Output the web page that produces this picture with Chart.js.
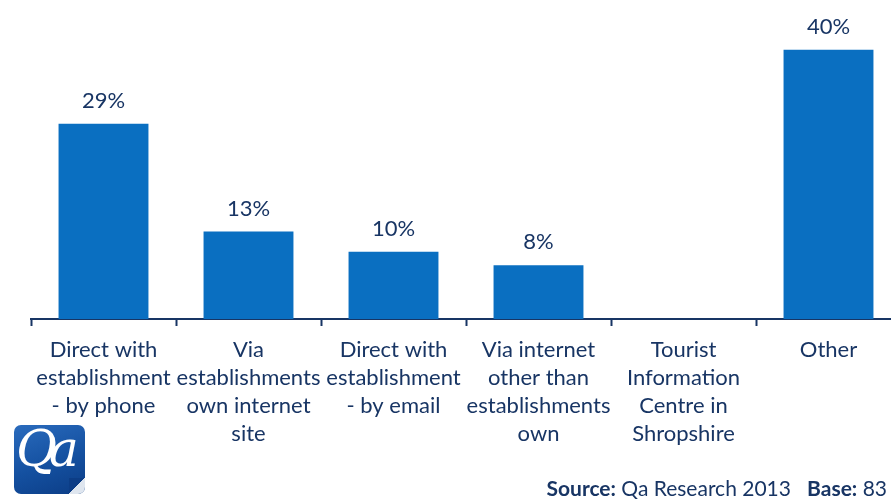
<!DOCTYPE html>
<html>
<head>
<meta charset="utf-8">
<script src="https://cdn.jsdelivr.net/npm/chart.js@4/dist/chart.umd.min.js"></script>
<style>
  html, body { margin: 0; padding: 0; background: #fff; overflow: hidden; }
  #wrap { position: relative; width: 891px; height: 499px; overflow: hidden; }
  #chart { position: absolute; left: 0; top: 0; }
  .logo {
    position: absolute; left: 14px; top: 425px; width: 71px; height: 69px;
    border-radius: 7px; overflow: hidden;
    background: linear-gradient(160deg, #2a6bbd 0%, #1450a0 55%, #0c3d86 100%);
  }
  .logo span {
    position: absolute; left: 2px; top: -5px;
    font-family: "DejaVu Serif", "Liberation Serif", serif; font-style: italic;
    font-size: 50px; color: #fff; letter-spacing: -8px;
  }
  .logo .curl {
    position: absolute; right: 0; bottom: 0; width: 16px; height: 16px;
    background: linear-gradient(135deg, #0c3d86 50%, #dfe6ef 50%);
  }
  .source {
    position: absolute; right: 4px; top: 475px;
    font-family: Lato, "Open Sans", sans-serif; font-size: 21px; color: #183564;
    white-space: nowrap;
  }
  .source b { font-weight: 700; }
</style>
</head>
<body>
<div id="wrap">
  <canvas id="chart" width="901" height="499"></canvas>
  <div class="logo"><span>Qa</span><div class="curl"></div></div>
  <div class="source"><b>Source:</b> Qa Research 2013&nbsp;&nbsp;&nbsp;<b>Base:</b> 83</div>
</div>
<script>
// booking channels (% of respondents)
const categories = [
  ["Direct with", "establishment", "- by phone"],
  ["Via", "establishments", "own internet", "site"],
  ["Direct with", "establishment", "- by email"],
  ["Via internet", "other than", "establishments", "own"],
  ["Tourist", "Information", "Centre in", "Shropshire"],
  ["Other"]
];
const values = [29, 13, 10, 8, 0, 40];

const navy = "#183564";
const barBlue = "#0a6fc1";

// value labels above each bar
const barLabels = {
  id: "barLabels",
  afterDatasetsDraw(chart) {
    const ctx = chart.ctx;
    const meta = chart.getDatasetMeta(0);
    ctx.save();
    ctx.font = "22px Lato, 'Open Sans', sans-serif";
    ctx.fillStyle = navy;
    ctx.textAlign = "center";
    ctx.textBaseline = "middle";
    meta.data.forEach((bar, i) => {
      if (!values[i]) return;
      ctx.fillText(values[i] + "%", bar.x, bar.y - 23);
    });
    ctx.restore();
  }
};

new Chart(document.getElementById("chart").getContext("2d"), {
  type: "bar",
  data: {
    labels: categories,
    datasets: [{
      data: values,
      backgroundColor: barBlue,
      borderWidth: 0,
      categoryPercentage: 1,
      barPercentage: 0.62
    }]
  },
  options: {
    responsive: false,
    animation: false,
    layout: { padding: { left: 31, right: 0, top: 16, bottom: 0 } },
    plugins: { legend: { display: false }, tooltip: { enabled: false } },
    scales: {
      x: {
        afterFit(scale) { scale.height = 180; },
        border: { display: true, color: navy, width: 2 },
        grid: {
          display: true,
          offset: true,
          drawOnChartArea: false,
          drawTicks: true,
          tickLength: 7,
          tickWidth: 2,
          color: navy
        },
        ticks: {
          autoSkip: false,
          maxRotation: 0,
          padding: 10,
          color: navy,
          font: { family: "Lato, 'Open Sans', sans-serif", size: 22, lineHeight: 1.27 }
        }
      },
      y: { display: false, min: 0, max: 45 }
    }
  },
  plugins: [barLabels]
});
</script>
</body>
</html>
